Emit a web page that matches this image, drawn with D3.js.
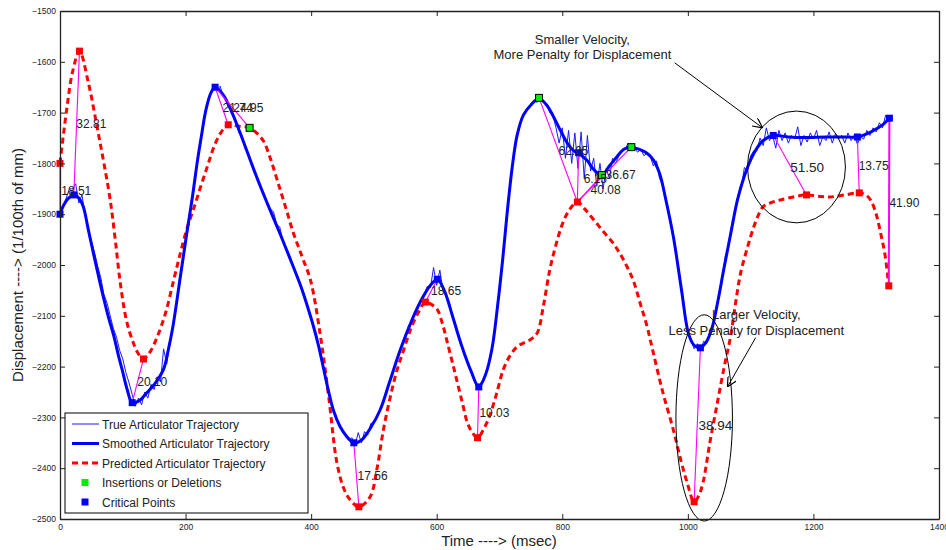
<!DOCTYPE html>
<html>
<head>
<meta charset="utf-8">
<script src="https://cdn.jsdelivr.net/npm/d3@7"></script>
<style>
  body { margin: 0; background: #fff; }
  svg { display: block; font-family: "Liberation Sans", Arial, sans-serif; }
</style>
</head>
<body>
<div id="chart"></div>
<script>
// True trajectory, sampled every 5 ms
const trueStep = 5;
const trueY = [
  -1900,-1885,-1868,-1850,-1850,-1840,-1878,-1862,-1902,-1928,-1952,-1975,-2002,-2025,-2058,-2075,-2100,-2125,-2142,-2168,
  -2185,-2212,-2232,-2255,-2278,-2262,-2275,-2250,-2262,-2235,-2245,-2220,-2230,-2165,-2195,-2150,-2122,-2075,-2042,-2000,
  -1955,-1910,-1872,-1830,-1788,-1745,-1712,-1680,-1665,-1645,-1655,-1648,-1668,-1672,-1690,-1700,-1715,-1740,-1745,-1772,
  -1780,-1800,-1820,-1832,-1850,-1860,-1878,-1890,-1895,-1920,-1925,-1952,-1968,-1982,-2000,-2015,-2030,-2048,-2068,-2085,
  -2102,-2125,-2150,-2178,-2205,-2235,-2258,-2285,-2300,-2318,-2325,-2338,-2345,-2340,-2355,-2330,-2350,-2328,-2335,-2312,
  -2310,-2298,-2282,-2268,-2245,-2232,-2210,-2190,-2172,-2158,-2140,-2120,-2110,-2092,-2082,-2068,-2058,-2042,-2045,-2005,
  -2040,-2010,-2050,-2058,-2072,-2100,-2118,-2145,-2160,-2178,-2195,-2210,-2228,-2245,-2232,-2225,-2205,-2185,-2150,-2100,
  -2055,-1990,-1925,-1865,-1810,-1765,-1738,-1715,-1702,-1690,-1685,-1675,-1680,-1665,-1680,-1682,-1700,-1705,-1730,-1760,
  -1730,-1790,-1735,-1800,-1740,-1810,-1738,-1830,-1745,-1815,-1790,-1845,-1800,-1850,-1810,-1830,-1790,-1800,-1785,-1775,
  -1772,-1760,-1768,-1770,-1778,-1772,-1785,-1780,-1785,-1805,-1795,-1830,-1840,-1872,-1900,-1935,-1970,-2005,-2048,-2090,
  -2130,-2148,-2165,-2155,-2170,-2150,-2155,-2130,-2115,-2085,-2058,-2022,-1980,-1965,-1920,-1900,-1862,-1850,-1808,-1815,
  -1785,-1775,-1775,-1750,-1765,-1730,-1755,-1745,-1770,-1735,-1755,-1740,-1760,-1745,-1752,-1728,-1765,-1745,-1758,-1740,
  -1752,-1735,-1765,-1748,-1755,-1738,-1760,-1742,-1752,-1745,-1760,-1740,-1755,-1745,-1762,-1748,-1752,-1735,-1745,-1730,
  -1738,-1720,-1730,-1705,-1712
];

const smoothed = [
  [0,-1900],[6,-1882],[14,-1868],[22,-1862],[30,-1868],[37,-1885],[45,-1930],[53,-1976],[61,-2020],[69,-2063],
  [77,-2102],[86,-2141],[93,-2178],[99,-2206],[107,-2245],[115,-2271],[125,-2268],[138,-2252],[152,-2232],[165,-2205],
  [172,-2170],[180,-2120],[192,-2020],[202,-1937],[211,-1865],[219,-1794],[226,-1740],[232,-1697],[240,-1662],[247,-1650],
  [260,-1665],[275,-1703],[290,-1750],[305,-1800],[320,-1848],[335,-1893],[350,-1937],[365,-1983],[383,-2040],[395,-2085],
  [404,-2122],[412,-2160],[420,-2205],[428,-2250],[436,-2288],[446,-2318],[457,-2338],[468,-2350],[480,-2345],[495,-2320],
  [510,-2285],[525,-2230],[542,-2167],[560,-2110],[575,-2070],[590,-2040],[601,-2028],[612,-2050],[625,-2100],[640,-2160],
  [655,-2210],[667,-2240],[678,-2215],[688,-2165],[697,-2080],[705,-1990],[712,-1900],[720,-1810],[728,-1745],[738,-1705],
  [750,-1685],[763,-1672],[775,-1685],[786,-1708],[797,-1735],[808,-1760],[818,-1775],[829,-1783],[840,-1795],[850,-1812],
  [863,-1823],[875,-1805],[887,-1787],[898,-1772],[910,-1768],[922,-1772],[935,-1780],[945,-1793],[955,-1820],[965,-1872],
  [977,-1945],[990,-2050],[1001,-2135],[1010,-2158],[1020,-2163],[1030,-2150],[1039,-2122],[1048,-2070],[1057,-2010],[1068,-1940],
  [1079,-1872],[1090,-1825],[1100,-1793],[1110,-1770],[1120,-1755],[1136,-1745],[1160,-1748],[1190,-1749],[1220,-1748],[1250,-1748],
  [1270,-1748],[1285,-1742],[1302,-1731],[1312,-1722],[1321,-1711]
];

const predicted = [
  [0,-1800],[10,-1700],[20,-1620],[31,-1579],[45,-1640],[59,-1728],[70,-1800],[80,-1872],[88,-1950],[96,-2035],
  [106,-2110],[117,-2154],[125,-2175],[133,-2185],[144,-2170],[155,-2141],[168,-2095],[181,-2030],[192,-1975],[203,-1925],
  [214,-1885],[224,-1846],[235,-1805],[245,-1768],[256,-1740],[268,-1724],[285,-1727],[302,-1730],[313,-1740],[324,-1756],
  [335,-1790],[346,-1833],[359,-1885],[372,-1938],[386,-1985],[399,-2030],[415,-2141],[428,-2260],[441,-2389],[452,-2440],
  [462,-2462],[476,-2476],[494,-2456],[505,-2400],[515,-2325],[526,-2260],[537,-2206],[548,-2165],[558,-2128],[570,-2095],
  [582,-2073],[592,-2078],[601,-2088],[609,-2115],[617,-2153],[625,-2192],[633,-2232],[641,-2272],[649,-2311],[657,-2330],
  [665,-2340],[676,-2320],[686,-2291],[696,-2250],[706,-2206],[717,-2178],[728,-2161],[739,-2153],[749,-2147],[760,-2134],
  [770,-2080],[780,-2010],[790,-1960],[800,-1920],[812,-1890],[824,-1876],[836,-1890],[850,-1911],[866,-1935],[881,-1957],
  [893,-1980],[903,-2003],[913,-2030],[924,-2075],[935,-2121],[945,-2173],[960,-2250],[977,-2325],[989,-2385],[999,-2429],
  [1010,-2466],[1017,-2455],[1024,-2429],[1035,-2350],[1047,-2271],[1058,-2200],[1068,-2141],[1076,-2075],[1084,-2016],[1095,-1965],
  [1105,-1925],[1113,-1900],[1120,-1885],[1133,-1877],[1147,-1872],[1168,-1866],[1189,-1862],[1210,-1865],[1227,-1866],[1250,-1862],
  [1273,-1858],[1283,-1862],[1291,-1872],[1300,-1900],[1307,-1937],[1314,-1980],[1320,-2041]
];

const criticalPts = [[0,-1900],[22,-1862],[115,-2271],[247,-1650],[468,-2350],[601,-2028],[667,-2240],
  [826,-1779],[1020,-2163],[1136,-1745],[1270,-1748],[1321,-1711]];
const predictedPts = [[0,-1800],[31,-1579],[133,-2185],[268,-1724],[476,-2476],[582,-2073],[665,-2340],
  [824,-1876],[1010,-2466],[1189,-1862],[1273,-1858],[1320,-2041]];
const insertPts = [[302,-1730],[763,-1671],[863,-1823],[910,-1768]];

// matches between actual and predicted points
const matches = [
  [0,-1900,0,-1800],[22,-1862,31,-1579],[115,-2271,133,-2185],[247,-1650,268,-1724],[247,-1650,302,-1730],
  [468,-2350,476,-2476],[601,-2028,582,-2073],[667,-2240,665,-2340],[763,-1671,824,-1876],[826,-1779,824,-1876],
  [863,-1823,824,-1876],[910,-1768,824,-1876],[1020,-2163,1010,-2466],[1136,-1745,1189,-1862],[1270,-1748,1273,-1858],
  [1321,-1711,1320,-2041]
];

const distLabels = [
  ['18.51',2,-1862],['32.81',26,-1730],['20.10',123,-2238],['21.74',259,-1699],['24.95',276,-1699],
  ['17.56',474,-2423],['18.65',591,-2059],['10.03',668,-2299],['62.05',794,-1783],['6.15',834,-1838],
  ['36.67',869,-1830],['40.08',845,-1860],['13.75',1272,-1813],['41.90',1321,-1886]
];
const bigLabels = [['51.50',1163,-1817],['38.94',1017,-2324]];

const xTicks = [0,200,400,600,800,1000,1200,1400];
const yTicks = [-2500,-2400,-2300,-2200,-2100,-2000,-1900,-1800,-1700,-1600,-1500];

const legendItems = ['True Articulator Trajectory','Smoothed Articulator Trajectory','Predicted Articulator Trajectory',
  'Insertions or Deletions','Critical Points'];

const width = 946, height = 550;
const svg = d3.select('#chart').append('svg')
  .attr('width', width)
  .attr('height', height);

const x = d3.scaleLinear().domain([0, 1400]).range([60, 939]);
const y = d3.scaleLinear().domain([-2500, -1500]).range([519, 11]);

const line = d3.line().x(d => x(d[0])).y(d => y(d[1]));
const smoothLine = d3.line().x(d => x(d[0])).y(d => y(d[1])).curve(d3.curveCatmullRom);

// Predicted (red dashed)
svg.append('path')
  .datum(predicted)
  .attr('d', smoothLine)
  .attr('fill', 'none')
  .attr('stroke', '#ff0000')
  .attr('stroke-width', 3)
  .attr('stroke-dasharray', '6,4');

// True (thin blue)
svg.append('path')
  .datum(trueY.map((v, i) => [i * trueStep, v]))
  .attr('d', line)
  .attr('fill', 'none')
  .attr('stroke', '#1a1aff')
  .attr('stroke-width', 1);

// Smoothed (thick blue)
svg.append('path')
  .datum(smoothed)
  .attr('d', smoothLine)
  .attr('fill', 'none')
  .attr('stroke', '#0000ff')
  .attr('stroke-width', 3);

// Matching lines
svg.append('g')
  .selectAll('line')
  .data(matches)
  .join('line')
  .attr('x1', d => x(d[0])).attr('y1', d => y(d[1]))
  .attr('x2', d => x(d[2])).attr('y2', d => y(d[3]))
  .attr('stroke', '#ff00ff')
  .attr('stroke-width', (d, i) => i === matches.length - 1 ? 2 : 1.1);

// Markers
const sq = 7;
function squares(data, fill, stroke) {
  svg.append('g')
    .selectAll('rect')
    .data(data)
    .join('rect')
    .attr('x', d => x(d[0]) - sq / 2)
    .attr('y', d => y(d[1]) - sq / 2)
    .attr('width', sq)
    .attr('height', sq)
    .attr('fill', fill)
    .attr('stroke', stroke)
    .attr('stroke-width', 1);
}
squares(criticalPts, '#0000ff', 'none');
squares(predictedPts, '#ff0000', 'none');
squares(insertPts, '#00ee00', '#000');

// Distance labels
svg.append('g')
  .selectAll('text')
  .data(distLabels)
  .join('text')
  .attr('x', d => x(d[1]))
  .attr('y', d => y(d[2]))
  .attr('font-size', 12)
  .attr('fill', '#222')
  .text(d => d[0]);

svg.append('g')
  .selectAll('text')
  .data(bigLabels)
  .join('text')
  .attr('x', d => x(d[1]))
  .attr('y', d => y(d[2]))
  .attr('font-size', 13.5)
  .attr('fill', '#222')
  .text(d => d[0]);

// Ellipses
const ellipses = [[1173, -1807, 78, 110], [1026, -2301, 45, 203]];
svg.append('g')
  .selectAll('ellipse')
  .data(ellipses)
  .join('ellipse')
  .attr('cx', d => x(d[0]))
  .attr('cy', d => y(d[1]))
  .attr('rx', d => x(d[2]) - x(0))
  .attr('ry', d => y(-2500) - y(-2500 + d[3]))
  .attr('fill', 'none')
  .attr('stroke', '#000')
  .attr('stroke-width', 1);

// Annotations
svg.append('defs').append('marker')
  .attr('id', 'arrow')
  .attr('viewBox', '0 0 10 10')
  .attr('refX', 10).attr('refY', 5)
  .attr('markerWidth', 10).attr('markerHeight', 10)
  .attr('markerUnits', 'userSpaceOnUse')
  .attr('orient', 'auto')
  .append('path')
  .attr('d', 'M0,0 L10,5 L0,10')
  .attr('fill', 'none')
  .attr('stroke', '#000')
  .attr('stroke-width', 1.2);

const arrows = [[979, -1602, 1119, -1730], [1108, -2143, 1063, -2240]];
svg.append('g')
  .selectAll('line')
  .data(arrows)
  .join('line')
  .attr('x1', d => x(d[0])).attr('y1', d => y(d[1]))
  .attr('x2', d => x(d[2])).attr('y2', d => y(d[3]))
  .attr('stroke', '#000')
  .attr('stroke-width', 1)
  .attr('marker-end', 'url(#arrow)');

const notes = [
  ['Smaller Velocity,', 832, -1565], ['More Penalty for Displacement', 832, -1594],
  ['Larger Velocity,', 1109, -2106], ['Less Penalty for Displacement', 1109, -2137]
];
svg.append('g')
  .selectAll('text')
  .data(notes)
  .join('text')
  .attr('x', d => x(d[1]))
  .attr('y', d => y(d[2]))
  .attr('text-anchor', 'middle')
  .attr('font-size', 13)
  .attr('fill', '#222')
  .text(d => d[0]);

// Axes (box with inward ticks)
const axisStyle = g => {
  g.select('.domain').attr('stroke', '#222').attr('stroke-width', 1.3);
  g.selectAll('.tick line').attr('stroke', '#222');
  g.selectAll('.tick text').attr('font-size', 8.5).attr('fill', '#222').attr('font-family', '"Liberation Sans", Arial, sans-serif');
};
const fmt = d3.format('d');

svg.append('g')
  .attr('transform', `translate(0,${y(-2500)})`)
  .call(d3.axisBottom(x).tickValues(xTicks).tickFormat(fmt).tickSizeInner(-5).tickSizeOuter(0).tickPadding(5))
  .call(axisStyle);
svg.append('g')
  .attr('transform', `translate(0,${y(-1500)})`)
  .call(d3.axisTop(x).tickValues(xTicks).tickSizeInner(-5).tickSizeOuter(0).tickFormat(''))
  .call(axisStyle);
svg.append('g')
  .attr('transform', `translate(${x(0)},0)`)
  .call(d3.axisLeft(y).tickValues(yTicks).tickFormat(fmt).tickSizeInner(-5).tickSizeOuter(0).tickPadding(4))
  .call(axisStyle);
svg.append('g')
  .attr('transform', `translate(${x(1400)},0)`)
  .call(d3.axisRight(y).tickValues(yTicks).tickSizeInner(-5).tickSizeOuter(0).tickFormat(''))
  .call(axisStyle);

// Axis titles
svg.append('text')
  .attr('x', 499)
  .attr('y', 546)
  .attr('text-anchor', 'middle')
  .attr('font-size', 15)
  .attr('fill', '#222')
  .text('Time ----> (msec)');

svg.append('text')
  .attr('transform', 'translate(23,265) rotate(-90)')
  .attr('text-anchor', 'middle')
  .attr('font-size', 15)
  .attr('fill', '#222')
  .text('Displacement ----> (1/100th of mm)');

// Legend
const legend = svg.append('g');
legend.append('rect')
  .attr('x', 65).attr('y', 413)
  .attr('width', 243).attr('height', 100)
  .attr('fill', '#fff')
  .attr('stroke', '#000')
  .attr('stroke-width', 1);

const rowY = i => 424 + i * 19.5;
legend.append('line')
  .attr('x1', 72).attr('x2', 99).attr('y1', rowY(0)).attr('y2', rowY(0))
  .attr('stroke', '#1a1aff').attr('stroke-width', 1);
legend.append('line')
  .attr('x1', 72).attr('x2', 99).attr('y1', rowY(1)).attr('y2', rowY(1))
  .attr('stroke', '#0000ff').attr('stroke-width', 3);
legend.append('line')
  .attr('x1', 72).attr('x2', 99).attr('y1', rowY(2)).attr('y2', rowY(2))
  .attr('stroke', '#ff0000').attr('stroke-width', 3).attr('stroke-dasharray', '6,4');
legend.append('rect')
  .attr('x', 81.5).attr('y', rowY(3) - 3.5).attr('width', 7).attr('height', 7)
  .attr('fill', '#00ee00');
legend.append('rect')
  .attr('x', 81.5).attr('y', rowY(4) - 3.5).attr('width', 7).attr('height', 7)
  .attr('fill', '#0000ff');

legend.selectAll('text')
  .data(legendItems)
  .join('text')
  .attr('x', 102)
  .attr('y', (d, i) => rowY(i) + 4.5)
  .attr('font-size', 12)
  .attr('fill', '#222')
  .text(d => d);
</script>
</body>
</html>
